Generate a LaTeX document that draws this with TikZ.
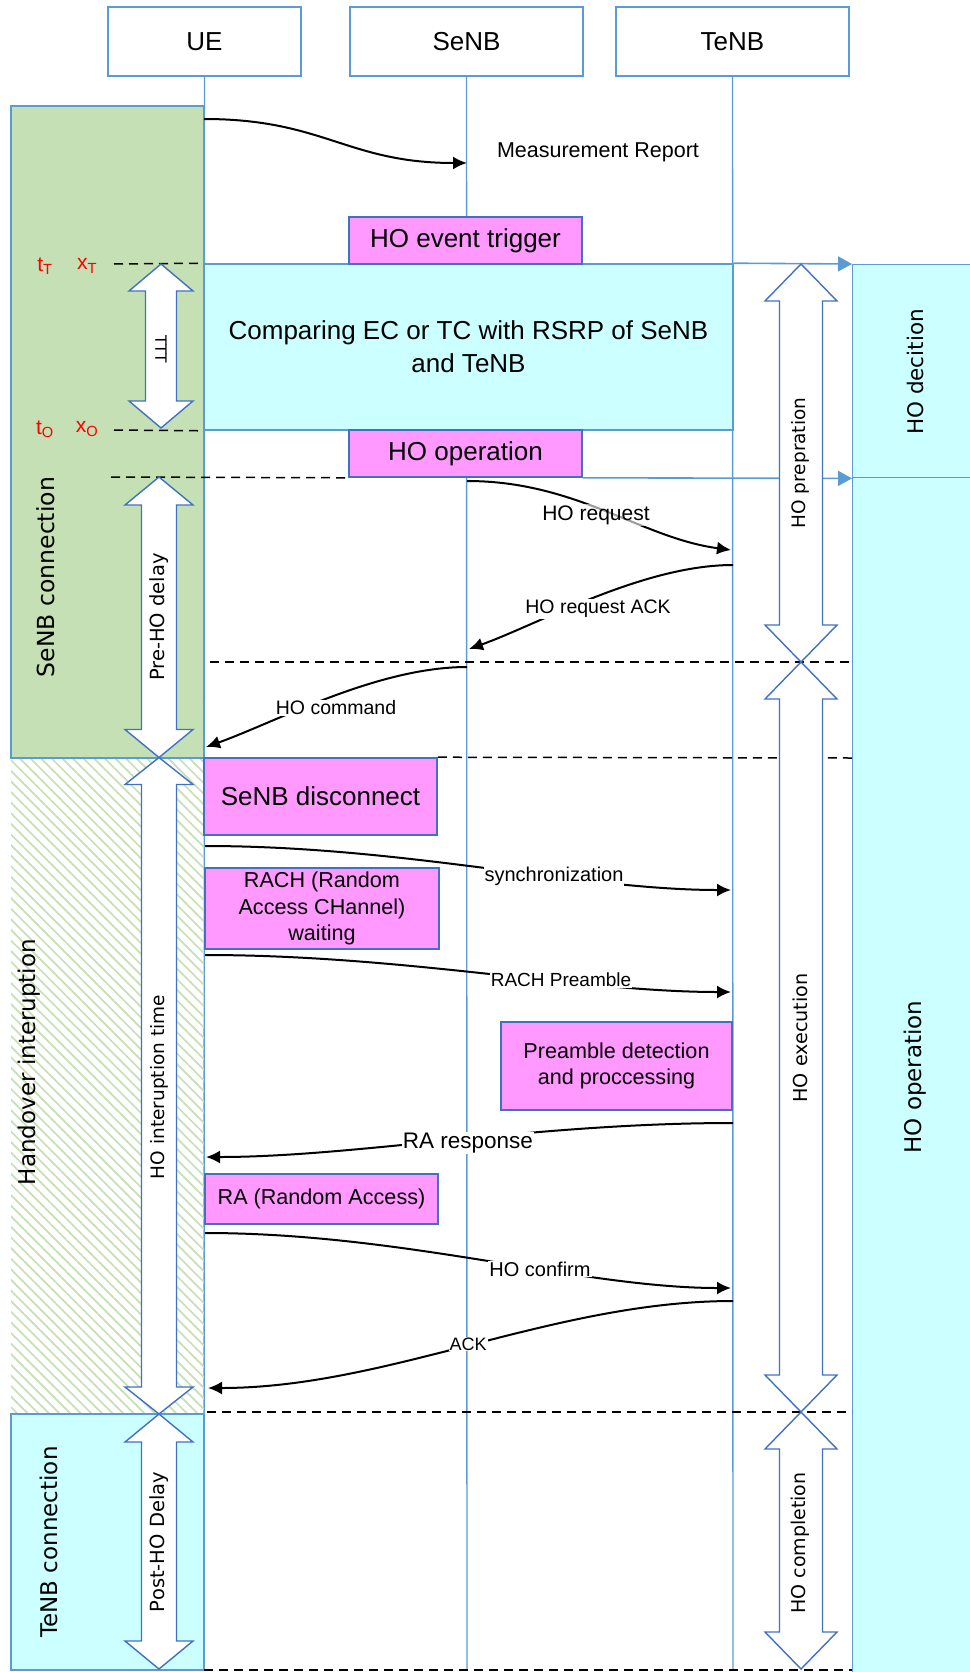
\documentclass[tikz,border=0pt]{standalone}
\usepackage{fontspec}
\setmainfont{Liberation Sans}
\newfontfamily\vfont{DejaVu Sans}
\usetikzlibrary{arrows.meta,patterns.meta,positioning}

\definecolor{lineblue}{RGB}{91,155,213}
\definecolor{edgeblue}{RGB}{65,113,196}
\definecolor{conngreen}{RGB}{197,224,180}
\definecolor{conncyan}{RGB}{204,255,255}
\definecolor{procpink}{RGB}{255,153,255}

% double block arrow: x, top, bottom, head half width, shaft half width, head length
\newcommand{\hoarrow}[6]{%
  \draw[blockarr] (#1,#2) -- ({#1+#4},{#2+#6}) -- ({#1+#5},{#2+#6}) -- ({#1+#5},{#3-#6})
    -- ({#1+#4},{#3-#6}) -- (#1,#3) -- ({#1-#4},{#3-#6}) -- ({#1-#5},{#3-#6})
    -- ({#1-#5},{#2+#6}) -- ({#1-#4},{#2+#6}) -- cycle;}

\begin{document}
\begin{tikzpicture}[x=1pt,y=-1pt,
  entity/.style={draw=lineblue,line width=1.6pt,fill=white,minimum width=233,minimum height=69,font=\fontsize{26}{30}\selectfont},
  procbox/.style={draw=edgeblue,line width=1.6pt,fill=procpink,inner sep=0pt,align=center,font=\fontsize{26}{33}\selectfont},
  smallproc/.style={procbox,font=\fontsize{21.6}{26.8}\selectfont},
  lifeline/.style={draw=lineblue,line width=1.4pt},
  region/.style={draw=lineblue,line width=1.4pt},
  msg/.style={line width=2pt,-{Latex[length=14pt,width=13pt]}},
  msglabel/.style={fill=white,inner sep=1pt,font=\fontsize{#1}{#1}\selectfont},
  msglabel/.default=20,
  tline/.style={line width=1.5pt,dash pattern=on 9pt off 6pt},
  bluearr/.style={draw=lineblue,line width=1.6pt,-{Triangle[length=14pt,width=15pt]}},
  blockarr/.style={draw=edgeblue,line width=1.4pt,fill=white},
  vlabel/.style={rotate=90,font=\vfont\fontsize{#1}{#1}\selectfont},
  timemark/.style={text=red,font=\fontsize{21}{21}\selectfont,inner sep=0pt}]
\useasboundingbox (0,0) rectangle (969,1672);

% entities and lifelines
\node[entity,minimum width=193] (ue) at (204.5,41.5) {UE};
\node[entity] (senb) at (466.5,41.5) {SeNB};
\node[entity] (tenb) at (732.5,41.5) {TeNB};
\coordinate (ue-end) at (204,1670);
\coordinate (senb-end) at (467,1670);
\coordinate (tenb-end) at (733,1670);
\draw[lifeline] (ue) -- (ue-end);
\draw[lifeline] (senb) -- (senb-end);
\draw[lifeline] (tenb) -- (tenb-end);

% phases on the left
\filldraw[region,fill=conngreen] (11,106) rectangle (204,758);
\fill[pattern={Lines[angle=-45,distance=7.5pt,line width=1.7pt]},pattern color=conngreen] (11,759) rectangle (204,1414);
\filldraw[region,fill=conncyan] (11,1414) rectangle (204,1670);

% phases on the right
\node[region,fill=conncyan,minimum width=126,minimum height=213,anchor=north west] (hodec) at (852,264) {};
\node[region,fill=conncyan,minimum width=126,minimum height=1210,anchor=north west] (hoopr) at (852,477) {};

% process boxes
\node[procbox,draw=lineblue,fill=conncyan,minimum width=529,minimum height=166] (cmp) at (468.5,347)
  {Comparing EC or TC with RSRP of SeNB\\and TeNB};
\node[procbox,minimum width=233,minimum height=47] (trig) at (465.5,240.5) {HO event trigger};
\node[procbox,minimum width=233,minimum height=47] (hoop) at (465.5,453.5) {HO operation};
\node[procbox,minimum width=233,minimum height=77] (sdisc) at (320.5,796.5) {SeNB disconnect};
\node[smallproc,minimum width=234,minimum height=81] (rach) at (322,908.5) {RACH (Random\\Access CHannel)\\waiting};
\node[smallproc,minimum width=231,minimum height=88] (pre) at (616.5,1066) {Preamble detection\\and proccessing};
\node[smallproc,minimum width=233,minimum height=50] (ra) at (321.5,1199) {RA (Random Access)};

% time marks
\coordinate (tT) at (114,264);
\coordinate (tO) at (114,430);
\coordinate (d0) at (111,477);
\coordinate (d1) at (210,662);
\coordinate (d1e) at (852,662);
\coordinate (d2e) at (852,758);
\coordinate (d3) at (207,1412);
\coordinate (d3e) at (852,1412);
\coordinate (d4e) at (852,1670);
\draw[tline] (tT) -- (cmp.north west);
\draw[tline] (tO) -- (cmp.south west);
\draw[tline] (d0) -- (hoop.south west);
\draw[tline] (d1) -- (d1e);
\draw[tline] (sdisc.north east) -- (d2e);
\draw[tline] (d3) -- (d3e);
\draw[tline] (ue-end) -- (d4e);
\draw[bluearr] (cmp.north east) -- (hodec.north west);
\draw[bluearr] (hoop.south east) -- (hodec.south west);
\node[timemark] (tTl) at (45,266) {t\textsubscript{T}};
\node[timemark] (xTl) at (87,266) {x\textsubscript{T}};
\node[timemark] (tOl) at (45,429) {t\textsubscript{O}};
\node[timemark] (xOl) at (87,429) {x\textsubscript{O}};

% durations
\hoarrow{161}{264}{428}{32}{15.5}{27}
\hoarrow{159}{477}{757.5}{34}{17.5}{28}
\hoarrow{159}{757.5}{1414}{34}{17.5}{27}
\hoarrow{159}{1414}{1669}{34}{17.5}{28}
\hoarrow{801}{264}{662}{36}{21.5}{37}
\hoarrow{801}{662}{1412}{36}{21.5}{37}
\hoarrow{801}{1412}{1669}{36}{21.5}{37}

% messages
\coordinate (mr1) at (204,119);   \coordinate (mr2) at (467,163);
\coordinate (rq1) at (467,481);   \coordinate (rq2) at (731,550);
\coordinate (ak1) at (733,565);   \coordinate (ak2) at (469,649);
\coordinate (cm1) at (467,667);   \coordinate (cm2) at (206,747);
\coordinate (sy1) at (205,846);   \coordinate (sy2) at (731,890);
\coordinate (rp1) at (205,955);   \coordinate (rp2) at (731,992);
\coordinate (rr1) at (733,1123);  \coordinate (rr2) at (206,1157);
\coordinate (cf1) at (205,1233);  \coordinate (cf2) at (731,1288);
\coordinate (ac1) at (733,1301);  \coordinate (ac2) at (208,1388);
\draw[msg] (mr1) .. controls +(120,0) and +(-120,0) .. (mr2);
\draw[msg] (rq1) .. controls +(110,0) and +(-90,-12) .. (rq2);
\draw[msg] (ak1) .. controls +(-90,0) and +(70,-25) .. (ak2);
\draw[msg] (cm1) .. controls +(-90,0) and +(70,-25) .. (cm2);
\draw[msg] (sy1) .. controls +(200,0) and +(-150,0) .. (sy2);
\draw[msg] (rp1) .. controls +(200,0) and +(-150,0) .. (rp2);
\draw[msg] (rr1) .. controls +(-200,0) and +(150,0) .. (rr2);
\draw[msg] (cf1) .. controls +(200,0) and +(-150,0) .. (cf2);
\draw[msg] (ac1) .. controls +(-180,0) and +(180,0) .. (ac2);
\node[msglabel=21.5,fill=none] (mrl) at (598,152) {Measurement Report};
\node[msglabel=21,fill opacity=0.6,text opacity=1] (rql) at (596,515) {HO request};
\node[msglabel=19.5] (akl) at (598,609) {HO request ACK};
\node[msglabel=19.5] (cml) at (336,708) {HO command};
\node[msglabel] (syl) at (554,876) {synchronization};
\node[msglabel=19] (rpl) at (561,980) {RACH Preamble};
\node[msglabel=22.5] (rrl) at (468,1143) {RA response};
\node[msglabel] (cfl) at (540,1269) {HO confirm};
\node[msglabel=18] (acl) at (468,1344) {ACK};

% rotated labels
\node[vlabel=23.5] (senbc) at (46,577) {SeNB connection};
\node[vlabel=23] (hint) at (29,1062) {Handover interuption};
\node[vlabel=23] (tenbc) at (49,1542) {TeNB connection};
\node[vlabel=15.5,rotate=180] (tttl) at (161,349) {TTT};
\node[vlabel=19.5] (prel) at (159,617) {Pre-HO delay};
\node[vlabel=18.5] (intl) at (159,1087) {HO interuption time};
\node[vlabel=19.5] (postl) at (159,1542) {Post-HO Delay};
\node[vlabel=18.5] (prepl) at (800,463) {HO prepration};
\node[vlabel=19.2] (execl) at (800,1038) {HO execution};
\node[vlabel=19] (compl) at (800,1543) {HO completion};
\node[vlabel=21.5] (decl) at (915,372) {HO decition};
\node[vlabel=23] (opl) at (915,1077) {HO operation};
\end{tikzpicture}
\end{document}
